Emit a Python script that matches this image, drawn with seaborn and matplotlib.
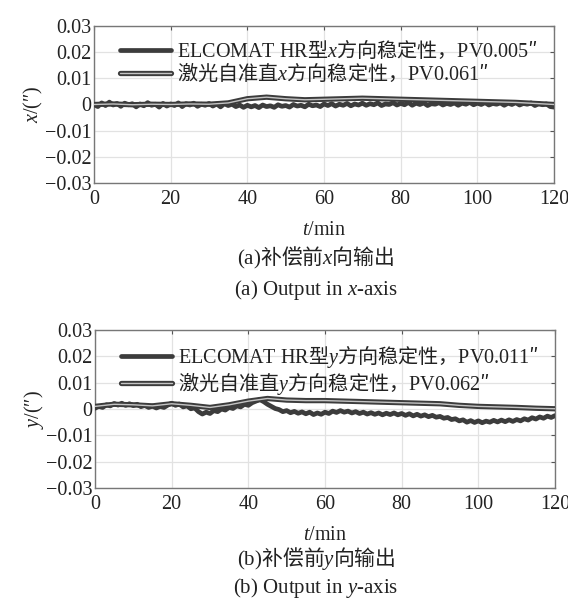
import numpy as np
import pandas as pd
import seaborn as sns
import matplotlib
matplotlib.use("Agg")
import matplotlib.pyplot as plt
import matplotlib.patheffects as pe

# ---------------- data ----------------
t_fine = list(range(0, 121))          # minutes, 1-min sampling
t_coarse = list(range(0, 121, 5))     # minutes, 5-min sampling

elcomat_x = [
    0.0000, -0.0008, 0.0006, -0.0004, 0.0009, -0.0002, 0.0004, -0.0007, 0.0005, -0.0001,
    0.0003, -0.0009, 0.0002, -0.0005, 0.0007, -0.0003, 0.0001, -0.0010, 0.0004, -0.0006,
    0.0002, -0.0004, 0.0006, -0.0008, 0.0003, -0.0002, 0.0005, -0.0007, 0.0001, -0.0003,
    0.0004, -0.0006, 0.0002, -0.0009, 0.0003, -0.0004, 0.0001, -0.0008, -0.0002, -0.0011,
    -0.0003, -0.0009, -0.0004, -0.0012, -0.0002, -0.0008, -0.0005, -0.0011, -0.0001, -0.0007,
    -0.0004, -0.0010, 0.0000, -0.0006, -0.0003, -0.0009, 0.0001, -0.0005, -0.0002, -0.0008,
    0.0002, -0.0004, 0.0003, -0.0006, 0.0001, -0.0003, 0.0004, -0.0005, 0.0002, -0.0002,
    0.0005, -0.0003, 0.0003, -0.0001, 0.0006, -0.0004, 0.0002, 0.0000, 0.0007, -0.0002,
    0.0004, -0.0001, 0.0008, -0.0003, 0.0005, 0.0000, 0.0006, -0.0004, 0.0003, 0.0001,
    0.0007, -0.0002, 0.0004, 0.0000, 0.0006, -0.0003, 0.0005, 0.0001, 0.0008, -0.0001,
    0.0005, 0.0000, 0.0007, -0.0002, 0.0004, 0.0001, 0.0006, -0.0003, 0.0005, 0.0000,
    0.0007, -0.0002, 0.0004, 0.0001, 0.0006, -0.0004, 0.0003, -0.0001, 0.0002, -0.0008,
    -0.0010,
]

laser_x = [
    0.0000, 0.0002, -0.0001, 0.0001, 0.0000, 0.0002, 0.0001, 0.0006, 0.0022,
    0.0028, 0.0022, 0.0018, 0.0020, 0.0022, 0.0024, 0.0022, 0.0020, 0.0018,
    0.0016, 0.0014, 0.0012, 0.0010, 0.0008, 0.0004, 0.0000,
]

elcomat_y = [
    0.0003, 0.0010, 0.0006, 0.0016, 0.0012, 0.0021, 0.0015, 0.0022, 0.0014, 0.0020,
    0.0013, 0.0018, 0.0009, 0.0014, 0.0006, 0.0011, 0.0004, 0.0010, 0.0006, 0.0015,
    0.0022, 0.0014, 0.0019, 0.0008, 0.0012, 0.0001, 0.0004, -0.0010, -0.0019, -0.0012,
    -0.0017, -0.0006, -0.0010, 0.0000, -0.0004, 0.0006, 0.0002, 0.0012, 0.0008, 0.0018,
    0.0014, 0.0024, 0.0030, 0.0036, 0.0028, 0.0018, 0.0010, 0.0002, -0.0002, -0.0010,
    -0.0006, -0.0014, -0.0009, -0.0016, -0.0011, -0.0018, -0.0012, -0.0021, -0.0015, -0.0020,
    -0.0012, -0.0017, -0.0008, -0.0013, -0.0006, -0.0012, -0.0008, -0.0015, -0.0010, -0.0017,
    -0.0012, -0.0019, -0.0014, -0.0020, -0.0015, -0.0022, -0.0016, -0.0021, -0.0015, -0.0022,
    -0.0017, -0.0024, -0.0018, -0.0026, -0.0020, -0.0027, -0.0022, -0.0029, -0.0024, -0.0031,
    -0.0028, -0.0035, -0.0032, -0.0040, -0.0037, -0.0045, -0.0041, -0.0050, -0.0044, -0.0051,
    -0.0045, -0.0052, -0.0046, -0.0050, -0.0043, -0.0049, -0.0042, -0.0048, -0.0041, -0.0047,
    -0.0040, -0.0045, -0.0037, -0.0042, -0.0033, -0.0038, -0.0030, -0.0035, -0.0027, -0.0032,
    -0.0025,
]

laser_y = [
    0.0010, 0.0018, 0.0016, 0.0012, 0.0020, 0.0014, 0.0006, 0.0016, 0.0030,
    0.0040, 0.0034, 0.0032, 0.0032, 0.0030, 0.0028, 0.0026, 0.0024, 0.0022,
    0.0020, 0.0014, 0.0010, 0.0008, 0.0006, 0.0003, 0.0001,
]

x_ticks = [0, 20, 40, 60, 80, 100, 120]
y_ticks = [-0.03, -0.02, -0.01, 0, 0.01, 0.02, 0.03]
y_tick_labels = ["\u22120.03", "\u22120.02", "\u22120.01", "0", "0.01", "0.02", "0.03"]

# Latin parts in \mathrm (Liberation Serif), CJK parts as plain text (Noto Sans CJK SC)
labels_a = [r"$\mathrm{ELCOMAT\ HR}$型$x$方向稳定性，$\mathrm{PV0.005}$″",
            r"激光自准直$x$方向稳定性，$\mathrm{PV0.061}$″"]
labels_b = [r"$\mathrm{ELCOMAT\ HR}$型$y$方向稳定性，$\mathrm{PV0.011}$″",
            r"激光自准直$y$方向稳定性，$\mathrm{PV0.062}$″"]
captions_a = [r"$\mathrm{(a)}$补偿前$x$向输出", "(a) Output in $x$-axis"]
captions_b = [r"$\mathrm{(b)}$补偿前$y$向输出", "(b) Output in $y$-axis"]
ylabels = ["$x$/(\u2033)", "$y$/(\u2033)"]
xlabel = "$t$/min"

# ---------------- style ----------------
sns.set_style("white")
fam = ["Liberation Serif", "Noto Sans CJK SC", "DejaVu Sans"]
plt.rcParams["font.family"] = fam
plt.rcParams["mathtext.fontset"] = "custom"
plt.rcParams["mathtext.rm"] = "Liberation Serif"
plt.rcParams["mathtext.it"] = "Liberation Serif:italic"
plt.rcParams["axes.unicode_minus"] = True
CJK = ["Noto Sans CJK SC"]

DARK = "#3c3c3c"
TXT = "#222222"
fig = plt.figure(figsize=(5.68, 6.04), dpi=100)

def panel(rect, y_band, y_smooth, labels, ylab, caps, cap_y):
    ax = fig.add_axes(rect)
    df_b = pd.DataFrame({"t": t_fine, "v": y_band})
    df_s = pd.DataFrame({"t": t_coarse, "v": y_smooth})
    sns.lineplot(data=df_b, x="t", y="v", ax=ax, color=DARK, lw=3.4, zorder=3)
    sns.lineplot(data=df_s, x="t", y="v", ax=ax, color="#c4c4c4", lw=1.0, zorder=4,
                 path_effects=[pe.Stroke(linewidth=3.8, foreground=DARK), pe.Normal()])
    ax.set_xlim(0, 120)
    ax.set_ylim(-0.03, 0.03)
    ax.set_xticks(x_ticks)
    ax.set_xticklabels([str(v) for v in x_ticks])
    ax.set_yticks(y_ticks)
    ax.set_yticklabels(y_tick_labels)
    ax.grid(True, color="#e2e2e2", lw=0.9)
    ax.set_axisbelow(True)
    ax.tick_params(direction="in", length=3, width=0.8, colors="#555555",
                   top=True, right=True, labelsize=14.5, labelcolor=TXT)
    ax.tick_params(axis="x", pad=5)
    ax.tick_params(axis="y", pad=2)
    for s in ax.spines.values():
        s.set_color("#777777")
        s.set_linewidth(1.0)
    ax.set_xlabel(xlabel, fontsize=14.5, color=TXT, labelpad=9)
    ax.set_ylabel(ylab, fontsize=14.5, color=TXT, labelpad=0)
    lines = ax.get_lines()
    leg = ax.legend(lines[:2], labels, loc="upper left", bbox_to_anchor=(0.04, 0.97),
                    frameon=False, prop={"family": CJK, "size": 14.5},
                    handlelength=2.5, handletextpad=0.3,
                    labelspacing=0.0, borderaxespad=0.0)
    for txt in leg.get_texts():
        txt.set_color(TXT)
    fig.text(0.556, cap_y[0], caps[0], ha="center", va="center", fontsize=15,
             color=TXT, family=CJK)
    fig.text(0.556, cap_y[1], caps[1], ha="center", va="center", fontsize=15, color=TXT)
    return ax

panel([0.1655, 0.697, 0.810, 0.260], elcomat_x, laser_x, labels_a, ylabels[0],
      captions_a, (1 - 258 / 604, 1 - 290 / 604))
panel([0.1672, 0.192, 0.810, 0.2616], elcomat_y, laser_y, labels_b, ylabels[1],
      captions_b, (1 - 559 / 604, 1 - 588 / 604))

fig.savefig("out.png", dpi=100)
